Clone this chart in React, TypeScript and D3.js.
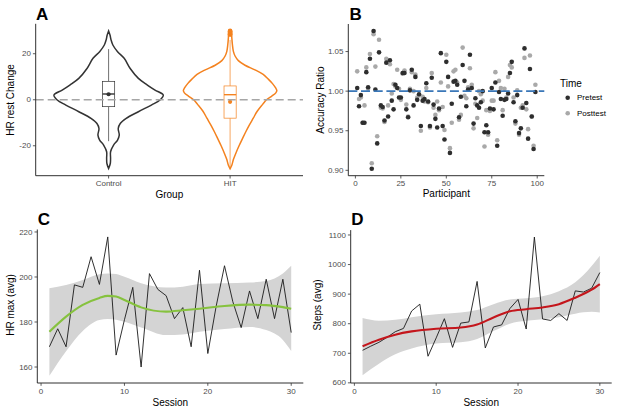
import React from "react";
import * as d3 from "d3";

const W = 617;
const H = 411;
const FONT = "'Liberation Sans', Arial, Helvetica, sans-serif";

// ---------- Panel A data ----------
const groups = ["Control", "HIT"];
const groupColors = ["#333333", "#f4821f"];
const controlLevels = [29.9, 28, 26, 23.8, 20.9, 18, 13.6, 9.3, 6.4, 4.2, 2, -0.1, -2.3, -5.2, -8.1, -10.3, -12.5, -15.4, -17.5, -19.7, -22.6, -25.5, -27.7, -29.9];
const controlDensity = [0, 0.027, 0.045, 0.078, 0.164, 0.285, 0.395, 0.545, 0.709, 0.849, 1.0, 0.94, 0.782, 0.545, 0.322, 0.213, 0.176, 0.195, 0.164, 0.091, 0.036, 0.036, 0.031, 0];
const hitLevels = [30.2, 30, 27, 24, 21, 19, 17, 15, 13, 11, 9, 7, 5, 4, 3, 1.5, 0, -2, -5, -8, -11, -14, -17, -20, -23, -26, -28.5, -30];
const hitDensity = [0, 0.024, 0.031, 0.042, 0.06, 0.091, 0.151, 0.273, 0.455, 0.605, 0.696, 0.776, 0.836, 0.855, 0.836, 0.758, 0.667, 0.595, 0.496, 0.424, 0.351, 0.285, 0.224, 0.164, 0.109, 0.06, 0.031, 0];
const boxQ1 = [-3, -8];
const boxMedian = [2.5, 2.2];
const boxQ3 = [8, 6];
const whiskerLow = [-18, -29.5];
const whiskerHigh = [22, 26];
const groupMeans = [2.4, -0.9];
const hitOutliers = [28.3, 29, 29.7, 30];
const yTicksA = [-20, 0, 20];

// ---------- Panel B data ----------
const pretest = [
  1.004, 0.981, 0.995, 0.960, 0.960, 1.024, 1.005, 1.041, 0.902, 1.076,
  1.002, 0.934, 1.049, 0.982, 0.980, 0.963, 1.036, 0.968, 1.039, 0.988,
  0.977, 1.008, 1.004, 0.992, 0.992, 1.023, 1.023, 0.977, 0.967, 1.001,
  1.027, 0.982, 1.018, 0.989, 0.996, 0.956, 0.988, 0.990, 1.010, 0.987,
  0.956, 1.017, 0.983, 0.965, 0.954, 0.978, 1.048, 0.956, 0.939, 1.037,
  1.018, 0.922, 0.984, 1.012, 1.013, 1.008, 0.967, 0.993, 1.033, 1.013,
  0.981, 1.002, 1.046, 1.004, 0.959, 0.991, 0.982, 0.979, 0.986, 1.000,
  0.948, 0.957, 0.948, 0.978, 1.004, 0.977, 1.011, 0.931, 0.999, 0.990,
  0.969, 0.989, 0.990, 0.997, 1.023, 1.037, 0.986, 0.962, 0.995, 0.947,
  0.953, 0.979, 1.054, 0.985, 0.940, 1.028, 0.968, 0.927, 0.999,
];
const posttest = [
  1.025, 0.990, 0.992, 0.960, 0.982, 1.030, 1.003, 1.047, 0.909, 1.072,
  1.031, 0.943, 1.065, 0.979, 0.978, 0.961, 1.041, 0.982, 1.034, 0.997,
  1.009, 1.006, 1.027, 1.003, 0.989, 1.022, 1.026, 0.983, 0.968, 1.003,
  1.024, 1.000, 1.021, 0.992, 0.995, 0.950, 0.993, 0.987, 1.004, 0.986,
  0.954, 1.023, 0.979, 0.970, 0.987, 0.976, 1.011, 0.980, 0.951, 1.046,
  1.006, 0.928, 0.960, 1.025, 1.027, 1.011, 0.964, 0.970, 1.055, 0.994,
  0.991, 1.005, 1.029, 1.008, 0.953, 0.984, 0.966, 1.000, 0.996, 0.988,
  0.930, 0.976, 0.945, 0.975, 0.988, 0.988, 1.024, 0.938, 1.013, 1.004,
  0.976, 1.003, 0.992, 1.018, 1.033, 1.030, 0.992, 0.959, 1.001, 0.945,
  0.979, 0.982, 1.042, 0.977, 0.952, 1.045, 0.968, 0.931, 1.008,
];
const timeLabels = ["Pretest", "Posttest"];
const timeColors = ["#2e2e2e", "#a9a9a9"];
const xTicksB = [0, 25, 50, 75, 100];
const yTicksB = [0.9, 0.95, 1.0, 1.05];

// ---------- Panel C data ----------
const hrMax = [169, 177, 169, 196.5, 195.4, 209, 196.7, 217.8, 165.3, 181, 195.4, 160, 201.5, 194.5, 191.7, 181.5, 186.4, 169, 203, 166, 187, 205, 189, 177.5, 193.8, 181.5, 199, 181.5, 199, 175.3];
const smoothSessionsC = [1, 3, 5, 7, 8, 9, 10, 12, 15, 17, 19, 22, 25, 27, 29, 30];
const fitC = [175.7, 182.4, 187.6, 190.7, 191.6, 191.3, 189.8, 186.5, 184.6, 185.2, 185.9, 187.1, 187.7, 187.5, 186.6, 185.9];
const upperC = [195, 196.4, 198.7, 201.2, 201.6, 201.3, 200.1, 197.2, 195.3, 195.7, 196.9, 197.2, 197.5, 198.2, 201.6, 205];
const lowerC = [156.1, 167, 176, 180.9, 181.3, 181, 180.1, 177.6, 174.2, 174.5, 175.7, 176.9, 177.8, 176.4, 172, 167.1];
const yTicksC = [160, 180, 200, 220];

// ---------- Panel D data ----------
const steps = [710, 724, 737, 754, 773, 784, 843, 866, 690, 752, 817, 720, 802, 806, 943, 718, 789, 796, 851, 882, 782, 1093, 816, 811, 834, 811, 911, 907, 920, 973];
const smoothSessionsD = [1, 3, 5, 7, 10, 13, 15, 17, 19, 21, 23, 25, 27, 29, 30];
const fitD = [724, 746, 763, 774, 783, 787, 797, 821, 842, 849, 855, 866, 888, 915, 934];
const upperD = [819, 810, 813, 822, 832, 838, 846, 866, 882, 886, 893, 910, 940, 995, 1030];
const lowerD = [626, 665, 697, 716, 733, 737, 748, 775, 800, 810, 815, 822, 834, 840, 838];
const yTicksD = [600, 700, 800, 900, 1000, 1100];
const xTicksSession = [0, 10, 20, 30];

const AXIS_COLOR = "#1a1a1a";
const TICK_TEXT = "#4d4d4d";

type Scale = (v: any) => number;

function YAxis({ scale, ticks, x, y0, y1, fmt }: { scale: Scale; ticks: any[]; x: number; y0: number; y1: number; fmt?: (v: any) => string }) {
  return (
    <g>
      <line x1={x} x2={x} y1={y0} y2={y1} stroke={AXIS_COLOR} strokeWidth={0.9} />
      {ticks.map((t, i) => (
        <g key={i}>
          <line x1={x - 2.8} x2={x} y1={scale(t)} y2={scale(t)} stroke="#333" strokeWidth={0.8} />
          <text x={x - 4.8} y={scale(t)} dy="0.33em" textAnchor="end" fontSize={8} fill={TICK_TEXT} fontFamily={FONT}>
            {fmt ? fmt(t) : String(t)}
          </text>
        </g>
      ))}
    </g>
  );
}

function XAxis({ scale, ticks, y, x0, x1, fmt }: { scale: Scale; ticks: any[]; y: number; x0: number; x1: number; fmt?: (v: any) => string }) {
  return (
    <g>
      <line x1={x0} x2={x1} y1={y} y2={y} stroke={AXIS_COLOR} strokeWidth={0.9} />
      {ticks.map((t, i) => (
        <g key={i}>
          <line x1={scale(t)} x2={scale(t)} y1={y} y2={y + 2.8} stroke="#333" strokeWidth={0.8} />
          <text x={scale(t)} y={y + 10.5} textAnchor="middle" fontSize={8} fill={TICK_TEXT} fontFamily={FONT}>
            {fmt ? fmt(t) : String(t)}
          </text>
        </g>
      ))}
    </g>
  );
}

function PanelLabel({ x, y, text }: { x: number; y: number; text: string }) {
  return (
    <text x={x} y={y} fontSize={17} fontWeight="bold" fontFamily={FONT} fill="#000">
      {text}
    </text>
  );
}

function AxisTitleX({ x, y, text }: { x: number; y: number; text: string }) {
  return (
    <text x={x} y={y} textAnchor="middle" fontSize={10} fontFamily={FONT} fill="#000">
      {text}
    </text>
  );
}

function AxisTitleY({ x, y, text }: { x: number; y: number; text: string }) {
  return (
    <text transform={`translate(${x},${y}) rotate(-90)`} textAnchor="middle" fontSize={10} fontFamily={FONT} fill="#000">
      {text}
    </text>
  );
}

function PanelA() {
  const left = 35.7, right = 303, top = 23.8, bottom = 175.7;
  const x = d3.scalePoint<string>().domain(groups).range([left, right]).padding(0.6);
  const y = d3.scaleLinear().domain([-33, 33]).range([bottom, top]);
  const halfW = x.step() * 0.45;
  const boxHalf = x.step() * 0.05;
  const violins = [
    { levels: controlLevels, dens: controlDensity },
    { levels: hitLevels, dens: hitDensity },
  ];
  return (
    <g>
      {groups.map((g, gi) => {
        const cx = x(g) as number;
        const col = groupColors[gi];
        const pts = violins[gi].levels.map((lv, i) => [lv, violins[gi].dens[i]] as [number, number]);
        const area = d3
          .area<[number, number]>()
          .y((d) => y(d[0]))
          .x0((d) => cx - d[1] * halfW)
          .x1((d) => cx + d[1] * halfW)
          .curve(d3.curveCatmullRom.alpha(0.5));
        return (
          <g key={g}>
            <path d={area(pts) || ""} fill="white" stroke={col} strokeWidth={1.5} />
            <line x1={cx} x2={cx} y1={y(whiskerHigh[gi])} y2={y(boxQ3[gi])} stroke={col} strokeWidth={0.7} />
            <line x1={cx} x2={cx} y1={y(boxQ1[gi])} y2={y(whiskerLow[gi])} stroke={col} strokeWidth={0.7} />
            <rect x={cx - boxHalf} y={y(boxQ3[gi])} width={boxHalf * 2} height={y(boxQ1[gi]) - y(boxQ3[gi])} fill="white" stroke={col} strokeWidth={0.7} />
            <line x1={cx - boxHalf} x2={cx + boxHalf} y1={y(boxMedian[gi])} y2={y(boxMedian[gi])} stroke={col} strokeWidth={1.4} />
            <circle cx={cx} cy={y(groupMeans[gi])} r={2.1} fill={col} />
          </g>
        );
      })}
      {hitOutliers.map((v, i) => (
        <circle key={i} cx={x("HIT") as number} cy={y(v)} r={2.3} fill={groupColors[1]} />
      ))}
      <line x1={left} x2={right} y1={y(0)} y2={y(0)} stroke="#a6a6a6" strokeWidth={1.3} strokeDasharray="8,4" />
      <YAxis scale={y} ticks={yTicksA} x={left} y0={top} y1={bottom} />
      <XAxis scale={(g: string) => x(g) as number} ticks={groups} y={bottom} x0={left} x1={right} />
      <AxisTitleY x={13.5} y={100} text="HR rest Change" />
      <AxisTitleX x={(left + right) / 2} y={197.5} text="Group" />
      <PanelLabel x={36} y={19.5} text="A" />
    </g>
  );
}

function PanelB() {
  const left = 348.3, right = 544.3, top = 24, bottom = 175.7;
  const x = d3.scaleLinear().domain([-3.9, 103.9]).range([left, right]);
  const y = d3.scaleLinear().domain([0.8932, 1.0848]).range([bottom, top]);
  const series = [posttest, pretest];
  const seriesColors = [timeColors[1], timeColors[0]];
  return (
    <g>
      {series.map((s, si) => (
        <g key={si}>
          {s.map((v, i) => (
            <circle key={i} cx={x(i + 1)} cy={y(v)} r={2.3} fill={seriesColors[si]} />
          ))}
        </g>
      ))}
      <line x1={left} x2={right} y1={y(1)} y2={y(1)} stroke="#3a77b8" strokeWidth={1.6} strokeDasharray="9,3.7" />
      <YAxis scale={y} ticks={yTicksB} x={left} y0={top} y1={bottom} fmt={(v) => d3.format(".2f")(v)} />
      <XAxis scale={x} ticks={xTicksB} y={bottom} x0={left} x1={right} />
      <AxisTitleY x={323.5} y={100} text="Accuracy Ratio" />
      <AxisTitleX x={(left + right) / 2} y={196.7} text="Participant" />
      <PanelLabel x={349.5} y={19.5} text="B" />
      <text x={560} y={86.5} fontSize={10} fontFamily={FONT} fill="#000">Time</text>
      {timeLabels.map((t, i) => (
        <g key={t}>
          <circle cx={567.7} cy={97.8 + i * 15.5} r={2.3} fill={timeColors[i]} />
          <text x={577} y={97.8 + i * 15.5} dy="0.33em" fontSize={8} fontFamily={FONT} fill="#000">{t}</text>
        </g>
      ))}
    </g>
  );
}

function SessionPanel({
  left, right, top, bottom, yDomain, yTicks, values, sessionsS, fit, upper, lower, lineColor, yTitle, yTitleX, label, labelX,
}: {
  left: number; right: number; top: number; bottom: number; yDomain: [number, number]; yTicks: number[]; values: number[];
  sessionsS: number[]; fit: number[]; upper: number[]; lower: number[]; lineColor: string; yTitle: string; yTitleX: number; label: string; labelX: number;
}) {
  const x = d3.scaleLinear().domain([-0.45, 31.45]).range([left, right]);
  const y = d3.scaleLinear().domain(yDomain).range([bottom, top]);
  const band = d3
    .area<number>()
    .x((_, i) => x(sessionsS[i]))
    .y0((_, i) => y(lower[i]))
    .y1((_, i) => y(upper[i]))
    .curve(d3.curveMonotoneX);
  const fitLine = d3
    .line<number>()
    .x((_, i) => x(sessionsS[i]))
    .y((d) => y(d))
    .curve(d3.curveMonotoneX);
  const raw = d3
    .line<number>()
    .x((_, i) => x(i + 1))
    .y((d) => y(d));
  return (
    <g>
      <path d={band(fit) || ""} fill="#d4d4d4" stroke="none" />
      <path d={raw(values) || ""} fill="none" stroke="#1a1a1a" strokeWidth={0.9} strokeLinejoin="miter" />
      <path d={fitLine(fit) || ""} fill="none" stroke={lineColor} strokeWidth={2.1} />
      <YAxis scale={y} ticks={yTicks} x={left} y0={top} y1={bottom} />
      <XAxis scale={x} ticks={xTicksSession} y={bottom} x0={left} x1={right} />
      <AxisTitleY x={yTitleX} y={305} text={yTitle} />
      <AxisTitleX x={(left + right) / 2} y={405.5} text="Session" />
      <PanelLabel x={labelX} y={224.5} text={label} />
    </g>
  );
}

export default function App() {
  return (
    <svg
      width={W}
      height={H}
      viewBox={`0 0 ${W} ${H}`}
      style={{ position: "absolute", left: 0, top: 0, background: "#fff" }}
    >
      <rect x={0} y={0} width={W} height={H} fill="#fff" />
      <PanelA />
      <PanelB />
      <SessionPanel
        left={37.3} right={303.3} top={229.5} bottom={383}
        yDomain={[152.9, 221.1]} yTicks={yTicksC} values={hrMax}
        sessionsS={smoothSessionsC} fit={fitC} upper={upperC} lower={lowerC}
        lineColor="#86c23e" yTitle="HR max (avg)" yTitleX={13.5} label="C" labelX={37.7}
      />
      <SessionPanel
        left={350.7} right={611.7} top={230.1} bottom={383}
        yDomain={[599.5, 1116.5]} yTicks={yTicksD} values={steps}
        sessionsS={smoothSessionsD} fit={fitD} upper={upperD} lower={lowerD}
        lineColor="#c4161c" yTitle="Steps (avg)" yTitleX={321} label="D" labelX={351.2}
      />
    </svg>
  );
}
